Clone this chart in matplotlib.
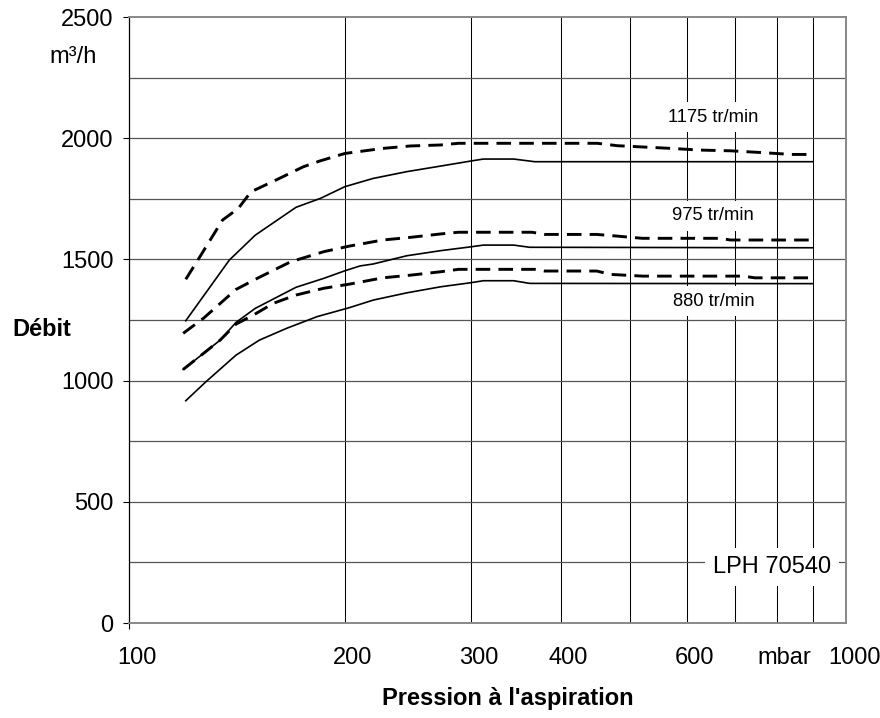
import matplotlib
matplotlib.use("Agg")
import matplotlib.pyplot as plt
from matplotlib import ticker
from matplotlib.transforms import ScaledTranslation

plt.rcParams['font.family'] = ['Liberation Sans', 'DejaVu Sans']

# Débit (m3/h) vs pression à l'aspiration (mbar), pompe LPH 70540
p_1175_d = [120, 126, 135, 142, 148, 161, 175, 185, 200, 226, 247, 272, 288, 300, 375, 450, 480, 570, 625, 690, 760, 840, 900]
q_1175_d = [1418, 1518, 1662, 1710, 1779, 1830, 1882, 1907, 1937, 1958, 1968, 1972, 1979, 1979, 1979, 1979, 1969, 1958, 1951, 1948, 1941, 1933, 1933]
p_1175 = [120, 138, 150, 171, 185, 200, 219, 244, 272, 300, 312, 344, 368, 900]
q_1175 = [1247, 1497, 1600, 1715, 1752, 1800, 1834, 1862, 1885, 1906, 1914, 1914, 1903, 1903]

p_975_d = [119, 127, 141, 151, 168, 187, 203, 226, 247, 272, 288, 365, 380, 449, 480, 520, 667, 690, 900]
q_975_d = [1195, 1257, 1376, 1422, 1490, 1532, 1555, 1580, 1591, 1605, 1612, 1612, 1603, 1603, 1596, 1587, 1587, 1580, 1580]
p_975 = [119, 127, 134, 141, 150, 171, 187, 200, 210, 219, 244, 272, 300, 312, 344, 362, 900]
q_975 = [1046, 1112, 1167, 1240, 1298, 1385, 1422, 1453, 1473, 1481, 1515, 1536, 1552, 1559, 1559, 1550, 1548]

p_880_d = [119, 127, 134, 141, 149, 159, 171, 187, 203, 226, 247, 272, 288, 368, 380, 449, 470, 521, 719, 746, 900]
q_880_d = [1046, 1112, 1167, 1233, 1270, 1319, 1353, 1381, 1398, 1424, 1435, 1449, 1459, 1459, 1452, 1452, 1438, 1431, 1431, 1424, 1424]
p_880 = [120, 128, 141, 152, 166, 183, 203, 219, 244, 272, 300, 312, 344, 362, 900]
q_880 = [917, 995, 1105, 1167, 1216, 1264, 1301, 1332, 1362, 1387, 1404, 1412, 1412, 1401, 1400]

xticks = [100, 200, 300, 400, 600, 800, 1000]
xlabels = ['100', '200', '300', '400', '600', 'mbar', '1000']
xgrid = [200, 300, 400, 500, 600, 700, 800, 900]
yticks = [0, 500, 1000, 1500, 2000, 2500]
ygrid = [250, 500, 750, 1000, 1250, 1500, 1750, 2000, 2250]

fig = plt.figure(figsize=(8.8, 7.18), dpi=100)
ax = fig.add_axes([129/880, 1 - 623/718, 717/880, 606/718])
ax.set_xscale('log')
ax.set_xlim(100, 1000)
ax.set_ylim(0, 2500)

# grid: one vertical line per 100 mbar, one horizontal line per 250 m3/h
for v in xgrid:
    ax.axvline(v, color='black', lw=0.75, zorder=0.5)
for h in ygrid:
    ax.axhline(h, color='#555555', lw=0.9, zorder=0.5)

solid = dict(color='black', lw=1.2, zorder=2)
dashed = dict(color='black', lw=2.1, dashes=(5, 2.8), zorder=2)
ax.plot(p_1175, q_1175, **solid)
ax.plot(p_975, q_975, **solid)
ax.plot(p_880, q_880, **solid)
ax.plot(p_1175_d, q_1175_d, **dashed)
ax.plot(p_975_d, q_975_d, **dashed)
ax.plot(p_880_d, q_880_d, **dashed)

ax.set_xticks(xticks, labels=xlabels)
ax.xaxis.set_minor_locator(ticker.NullLocator())
ax.set_yticks(yticks)
ax.tick_params(axis='x', length=0, pad=17, labelsize=17)
ax.tick_params(axis='y', length=4.3, width=0.8, pad=7, labelsize=17)
ax.xaxis.get_major_ticks()[0].tick1line.set_markersize(4)
shift = ScaledTranslation(8/100, 0, fig.dpi_scale_trans)
for lbl in ax.get_xticklabels():
    lbl.set_transform(lbl.get_transform() + shift)

for side in ['top', 'right', 'bottom']:
    ax.spines[side].set_color('#888888')
    ax.spines[side].set_linewidth(1.4)
ax.spines['left'].set_color('black')
ax.spines['left'].set_linewidth(0.9)

# speed labels sit on white boxes that hide the grid behind them
box = dict(boxstyle='square,pad=0.35', facecolor='white', edgecolor='none')
lbl_kw = dict(ha='center', va='center', fontsize=13.2, bbox=box, zorder=1.5)
ax.text(0.815, (623 - 117)/606, '1175 tr/min', transform=ax.transAxes, **lbl_kw)
ax.text(0.815, (623 - 216)/606, '975 tr/min', transform=ax.transAxes, **lbl_kw)
ax.text(0.815, (623 - 301)/606, '880 tr/min', transform=ax.transAxes, **lbl_kw)
ax.text((772 - 129)/717, (623 - 567)/606, 'LPH 70540', transform=ax.transAxes,
        ha='center', va='center', fontsize=17, bbox=box, zorder=1.5)

fig.text(73/880, 1 - 57/718, 'm³/h', ha='center', va='center', fontsize=17)
fig.text(42/880, 1 - 330/718, 'Débit', ha='center', va='center', fontsize=17, fontweight='bold')
fig.text(508/880, 1 - 705/718, "Pression à l'aspiration", ha='center', va='baseline',
         fontsize=17, fontweight='bold')

fig.savefig('out.png', dpi=100)
